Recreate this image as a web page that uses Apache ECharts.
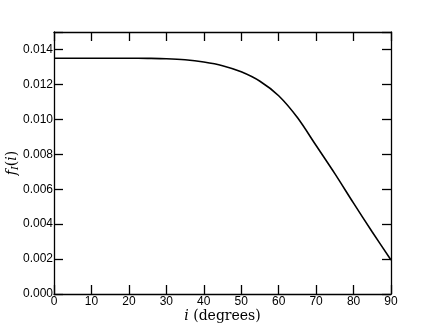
<!DOCTYPE html>
<html>
<head>
<meta charset="utf-8">
<script src="https://cdn.jsdelivr.net/npm/echarts@6/dist/echarts.min.js"></script>
<style>
  html, body { margin: 0; padding: 0; background: #fff; }
  #chart { width: 435px; height: 327px; }
</style>
</head>
<body>
<div id="chart"></div>
<script>
// inclination in degrees
var incl = [0, 5, 10, 15, 20, 25, 30, 35, 40, 45, 50, 55, 60, 65, 70, 75, 80, 85, 90];
// f_I(i)
var fI = [0.01350, 0.01350, 0.01350, 0.01350, 0.01350, 0.01349, 0.01347, 0.01341, 0.01328,
  0.01307, 0.01272, 0.01218, 0.01135, 0.01010, 0.00850, 0.00689, 0.00520, 0.00355, 0.00195];
var yTicks = ['0.000', '0.002', '0.004', '0.006', '0.008', '0.010', '0.012', '0.014'];

var chart = echarts.init(document.getElementById('chart'));

var points = [];
for (var i = 0; i < incl.length; i++) {
  points.push([incl[i], fI[i]]);
}

var lineStyle = { color: '#000', width: 1.3 };
var tickStyle = { show: true, inside: true, length: 9, lineStyle: { color: '#000', width: 1.3 } };
var labelFont = 'Liberation Sans, Arial, sans-serif';
var serif = 'DejaVu Serif, Liberation Serif, serif';

var option = {
  animation: false,
  grid: { left: 54, right: 44, top: 32, bottom: 33, containLabel: false, outerBoundsMode: 'none' },
  xAxis: [{
    type: 'value', min: 0, max: 90, interval: 10,
    axisLine: { show: true, onZero: false, lineStyle: lineStyle },
    axisTick: tickStyle,
    splitLine: { show: false },
    axisLabel: { color: '#000', fontSize: 12, fontFamily: labelFont, margin: 2 },
    name: '{it|i} (degrees)',
    nameLocation: 'middle',
    nameGap: 15,
    nameMoveOverlap: false,
    nameTextStyle: {
      color: '#000', fontSize: 14, fontFamily: serif,
      rich: { it: { fontStyle: 'italic', fontSize: 14, fontFamily: serif } }
    }
  }, {
    type: 'value', min: 0, max: 90, interval: 10, position: 'top',
    axisLine: { show: true, onZero: false, lineStyle: lineStyle },
    axisTick: tickStyle,
    axisLabel: { show: false },
    splitLine: { show: false }
  }],
  yAxis: [{
    type: 'value', min: 0, max: 0.015, interval: 0.002,
    axisLine: { show: true, onZero: false, lineStyle: lineStyle },
    axisTick: tickStyle,
    splitLine: { show: false },
    axisLabel: {
      color: '#000', fontSize: 12, fontFamily: labelFont, margin: 1,
      formatter: function (v) {
        var k = Math.round(v / 0.002);
        return yTicks[k] || '';
      }
    },
    name: '{it|f}{sub|I}{n|(}{it|i}{n|)}',
    nameLocation: 'middle',
    nameGap: 34,
    nameRotate: 90,
    nameMoveOverlap: false,
    nameTextStyle: {
      color: '#000',
      rich: {
        it: { fontStyle: 'italic', fontSize: 14, fontFamily: serif, color: '#000' },
        n: { fontSize: 14, fontFamily: serif, color: '#000' },
        sub: { fontStyle: 'italic', fontSize: 10, fontFamily: serif, color: '#000', padding: [6, 0, 0, 0] }
      }
    }
  }, {
    type: 'value', min: 0, max: 0.015, interval: 0.002, position: 'right',
    axisLine: { show: true, onZero: false, lineStyle: lineStyle },
    axisTick: tickStyle,
    axisLabel: { show: false },
    splitLine: { show: false }
  }],
  series: [{
    type: 'line',
    data: points,
    smooth: 0.3,
    symbol: 'none',
    lineStyle: { color: '#000', width: 1.6 },
    clip: true
  }]
};

chart.setOption(option);
</script>
</body>
</html>
